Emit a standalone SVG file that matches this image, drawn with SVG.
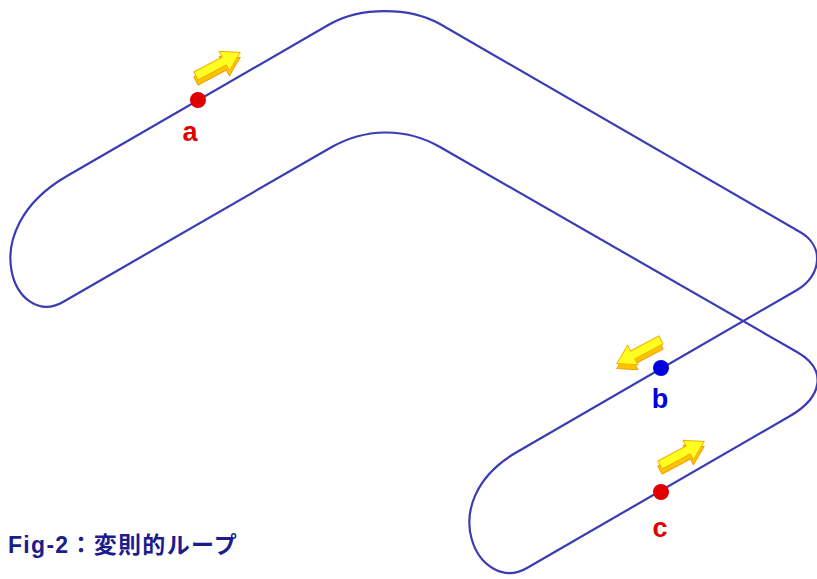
<svg xmlns="http://www.w3.org/2000/svg" xmlns:xlink="http://www.w3.org/1999/xlink" width="817" height="579" viewBox="0 0 817 579">
<style>
.track{fill:none;stroke:#3b3bb3;stroke-width:2.2;stroke-linejoin:round}
.side{fill:#ffc400;stroke:#f0a000;stroke-width:1}
.face{fill:#ffff20;stroke:#f5b000;stroke-width:1}
.lbl{font-family:"Liberation Sans",Arial,sans-serif;font-weight:bold;font-size:27px;text-anchor:middle}
.title{font-family:"Liberation Sans","Noto Sans CJK JP",sans-serif;font-size:23px;font-weight:bold;fill:#1c1c8c;letter-spacing:1.3px}
</style>
<defs>
<path id="arr" d="M0,-4.5 H32 V-11 L50,0 L32,11 V4.5 H0 Z"/>
</defs>
<g id="connectors">
<path class="track" d="M67,176 L330,24 C360,6.7 410,6.7 440,24 L800,232 C824.7,246 821.7,275.7 797,290 L517,452 C430.4,502 479.4,595.5 527,568 L790,416 C821.7,397.7 828.7,370.3 797,352 L440,147 C405,127 364.6,128 330,148 L63,302 C15.4,329.5 -28.3,231 67,176 Z"/>
</g>
<g id="arrow-a" transform="translate(196,76)">
<use xlink:href="#arr" class="side" transform="translate(0,5) rotate(-28)"/>
<use xlink:href="#arr" class="face" transform="rotate(-28)"/>
</g>
<g id="arrow-b" transform="translate(661,340)">
<use xlink:href="#arr" class="side" transform="translate(0,5) rotate(152)"/>
<use xlink:href="#arr" class="face" transform="rotate(152)"/>
</g>
<g id="arrow-c" transform="translate(660,465)">
<use xlink:href="#arr" class="side" transform="translate(0,5) rotate(-28)"/>
<use xlink:href="#arr" class="face" transform="rotate(-28)"/>
</g>
<g id="point-a">
<circle cx="198" cy="100" r="8" fill="#e00000"/>
<text class="lbl" x="190" y="141" fill="#e00000">a</text>
</g>
<g id="point-b">
<circle cx="661" cy="368" r="8" fill="#0000e0"/>
<text class="lbl" x="660" y="408" fill="#0000e0">b</text>
</g>
<g id="point-c">
<circle cx="661" cy="492" r="8" fill="#e00000"/>
<text class="lbl" x="660" y="537" fill="#e00000">c</text>
</g>
<g id="title">
<text class="title" x="8" y="553">Fig-2：変則的ループ</text>
</g>
</svg>
